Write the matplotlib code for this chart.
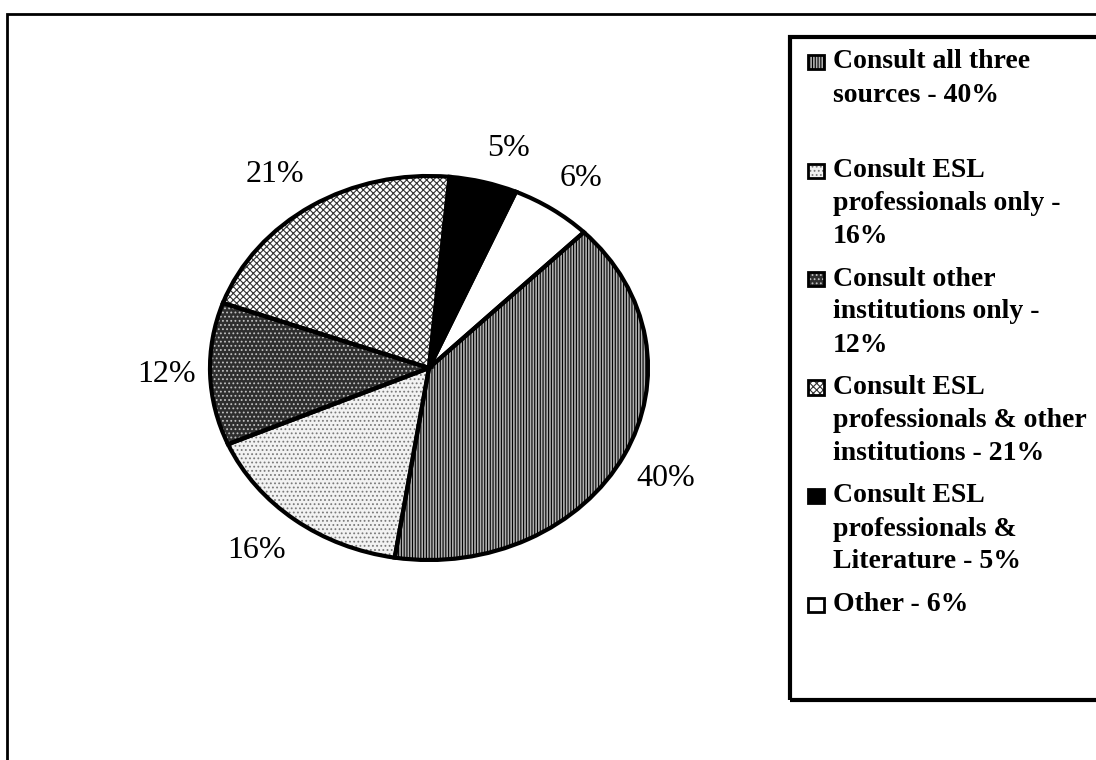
import numpy as np
import matplotlib.pyplot as plt
from matplotlib.patches import Rectangle

plt.rcParams['font.family'] = ['Liberation Serif', 'DejaVu Serif']
plt.rcParams['hatch.linewidth'] = 0.8

# data, clockwise from upper right
values = [40, 16, 12, 21, 5, 6]
legend_labels = [
    "Consult all three\nsources - 40%\n",
    "Consult ESL\nprofessionals only -\n16%",
    "Consult other\ninstitutions only -\n12%",
    "Consult ESL\nprofessionals & other\ninstitutions - 21%",
    "Consult ESL\nprofessionals &\nLiterature - 5%",
    "Other - 6%",
]

# fill styles: face, hatch, hatch colour
faces = ['#b0b0b0', '#f2f2f2', '#2e2e2e', '#ffffff', 'black', 'white']
hatches = ['||||||', '....', '....', 'xxxxx', None, None]
hatch_cols = ['black', '#7a7a7a', '#c0c0c0', '#333333', 'black', 'white']

W, H = 1096, 760
fig = plt.figure(figsize=(W / 100, H / 100), dpi=100)


def fx(px):
    return px / W


def fy(py):
    return 1 - py / H


# outer frame
fig.patches.append(Rectangle((fx(7), fy(800)), fx(1140), fy(14) - fy(800),
                             transform=fig.transFigure, fill=False,
                             edgecolor='black', linewidth=2))

ax = fig.add_axes([fx(210), fy(560), fx(648) - fx(210), fy(176) - fy(560)])

wedges, texts = ax.pie(values, startangle=45, counterclock=False, colors=faces)
for w, h, hc in zip(wedges, hatches, hatch_cols):
    w.set_edgecolor(hc)
    w.set_linewidth(0)
    if h:
        w.set_hatch(h)

# outlines on top
ax.pie(values, startangle=45, counterclock=False,
       wedgeprops=dict(fill=False, edgecolor='black', linewidth=3))

ax.set_aspect('auto')
ax.set_xlim(-1, 1)
ax.set_ylim(-1, 1)
ax.axis('off')

# percentage labels just outside the rim, excel style
total = sum(values)
for w, v in zip(wedges, values):
    mid = np.deg2rad((w.theta1 + w.theta2) / 2)
    c, s = np.cos(mid), np.sin(mid)
    ha = 'center' if abs(c) < 0.2 else ('left' if c > 0 else 'right')
    va = 'center' if abs(s) < 0.3 else ('bottom' if s > 0 else 'top')
    ax.annotate(f"{v / total * 100:.0f}%", xy=(c, s),
                xytext=(14 * c * 0.72, 20 * s * 0.72), textcoords='offset points',
                ha=ha, va=va, fontsize=23, annotation_clip=False)

# legend box
fig.patches.append(Rectangle((fx(790), fy(700)), fx(400), fy(37) - fy(700),
                             transform=fig.transFigure, fill=False,
                             edgecolor='black', linewidth=3))

line_h = 33
y = 62
for lab, fc, h, hc in zip(legend_labels, faces, hatches, hatch_cols):
    lines = lab.split("\n")
    x0, x1, y0, y1 = 808, 824, y - 7, y + 7
    fig.patches.append(Rectangle((fx(x0), fy(y1)), fx(x1 - x0), fy(y0) - fy(y1),
                                 transform=fig.transFigure, facecolor=fc,
                                 edgecolor=hc, linewidth=0, hatch=h))
    fig.patches.append(Rectangle((fx(x0), fy(y1)), fx(x1 - x0), fy(y0) - fy(y1),
                                 transform=fig.transFigure, fill=False,
                                 edgecolor='black', linewidth=2))
    for i, ln in enumerate(lines):
        fig.text(fx(833), fy(y + i * line_h), ln, fontsize=20, fontweight='bold',
                 ha='left', va='center')
    y += (len(lines) - 1) * line_h + 42.5

fig.savefig('out.png', dpi=100)
